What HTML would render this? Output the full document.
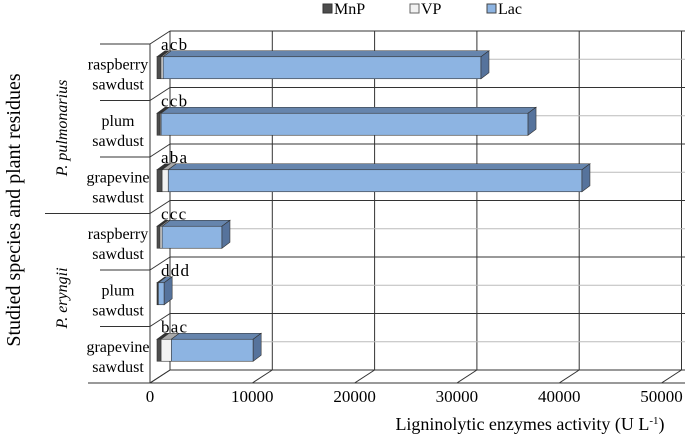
<!DOCTYPE html>
<html><head><meta charset="utf-8"><style>
body{margin:0;background:#fff}
svg{display:block;font-family:"Liberation Serif",serif}
</style></head><body>
<svg id="c" width="685" height="436" viewBox="0 0 685 436">
<g id="grid"></g>
<g id="bars"></g>
<g id="labels"></g>
<g font-size="16">
 <rect x="323" y="4" width="9" height="9" fill="#4d4d4d" stroke="#333"/>
 <text x="334" y="14">MnP</text>
 <rect x="410" y="4" width="9" height="9" fill="#f2f2f2" stroke="#666"/>
 <text x="421" y="14">VP</text>
 <rect x="487" y="4" width="9" height="9" fill="#8db4e2" stroke="#444"/>
 <text x="498" y="14">Lac</text>
</g>
<text x="530" y="430" font-size="18" text-anchor="middle">Ligninolytic enzymes activity (U L<tspan font-size="11" dy="-6">-1</tspan><tspan dy="6">)</tspan></text>
<text transform="translate(20,210) rotate(-90)" font-size="20" text-anchor="middle">Studied species and plant residues</text>
<text transform="translate(67,128) rotate(-90)" font-size="16" font-style="italic" text-anchor="middle">P. pulmonarius</text>
<text transform="translate(67,298) rotate(-90)" font-size="16" font-style="italic" text-anchor="middle">P. eryngii</text>
</svg>
<script>
const categories=["raspberry sawdust","plum sawdust","grapevine sawdust","raspberry sawdust","plum sawdust","grapevine sawdust"];
const mnp=[400,300,500,300,80,400];
const vp=[200,100,600,200,50,1000];
const lac=[31070,35870,40440,5850,570,8000];
const letters=["a c b","c c b","a b a","c c c","d d d","b a c"];
const ticks=[0,10000,20000,30000,40000,50000];
const NS="http://www.w3.org/2000/svg";
const S=10.23/1000, FX=150, BX=170, TOP=31, BOT=370, DX=20, DY=13, N=6;
const band=(BOT-TOP)/N;
function el(t,a,p){const e=document.createElementNS(NS,t);for(const k in a)e.setAttribute(k,a[k]);p.appendChild(e);return e;}
const g=document.getElementById('grid'),b=document.getElementById('bars'),L=document.getElementById('labels');
ticks.forEach((t,i)=>{const x=BX+t*S;
 const l=el('line',{x1:x,y1:TOP,x2:x,y2:BOT,stroke:'#333','stroke-width':1},g);
 
 const d=el('line',{x1:x,y1:BOT,x2:x-DX,y2:BOT+DY,stroke:'#333'},g);
 
 const tx=el('text',{x:x-DX,y:BOT+DY+19,'font-size':17,'text-anchor':'middle'},L);tx.textContent=t;
 
});
for(let i=0;i<=N;i++){const y=TOP+i*band;
 const l=el('line',{x1:BX,y1:y,x2:685,y2:y,stroke:'#333'},g);
 
 const d=el('line',{x1:BX,y1:y,x2:FX,y2:y+DY,stroke:'#333'},g);
 
 if(i<N){const m=el('line',{x1:BX,y1:y+band/2,x2:685,y2:y+band/2,stroke:'#bbb'},g);
 }
 const lx=(i==3)?45:(i==N?88:100);
 const c=el('line',{x1:lx,y1:y+DY,x2:FX,y2:y+DY,stroke:'#333'},g);
 
}
const fl=el('line',{x1:FX,y1:TOP+DY,x2:FX,y2:BOT+DY,stroke:'#333'},g);

const fb=el('line',{x1:FX,y1:BOT+DY,x2:685,y2:BOT+DY,stroke:'#333'},g);

const X0=157,bh=22,dx=8,dy=6;
const cols=[['#4d4d4d','#333','#3a3a3a'],['#f2f2f2','#aaa','#ccc'],['#8db4e2','#6685ad','#56739c']];
categories.forEach((c,i)=>{
 const cy=TOP+DY+i*band+band/2-4.5;const y=cy-bh/2;
 const vals=[mnp[i],vp[i],lac[i]];let acc=0;
 vals.forEach((v,k)=>{const x1=X0+acc*S,x2=X0+(acc+v)*S;acc+=v;
  const top=el('polygon',{points:`${x1},${y} ${x1+dx},${y-dy} ${x2+dx},${y-dy} ${x2},${y}`,fill:cols[k][1],stroke:'#333','stroke-width':0.6},b);
  
  const r=el('rect',{x:x1,y:y,width:Math.max(x2-x1,0.5),height:bh,fill:cols[k][0],stroke:'#333','stroke-width':0.6},b);
  
  if(k==2){const s=el('polygon',{points:`${x2},${y} ${x2+dx},${y-dy} ${x2+dx},${y+bh-dy} ${x2},${y+bh}`,fill:cols[k][2],stroke:'#333','stroke-width':0.6},b);
  }
 });
 const t=el('text',{x:X0+4,y:y-7,'font-size':17,'word-spacing':'-3'},L);t.textContent=letters[i];
 
 const w=c.split(' ');const ly=TOP+DY+i*band+band/2;
 const t1=el('text',{x:118,y:ly-3,'font-size':16,'text-anchor':'middle'},L);t1.textContent=w[0];
 
 const t2=el('text',{x:118,y:ly+17,'font-size':16,'text-anchor':'middle'},L);t2.textContent=w[1];
 
});
</script>
</body></html>
